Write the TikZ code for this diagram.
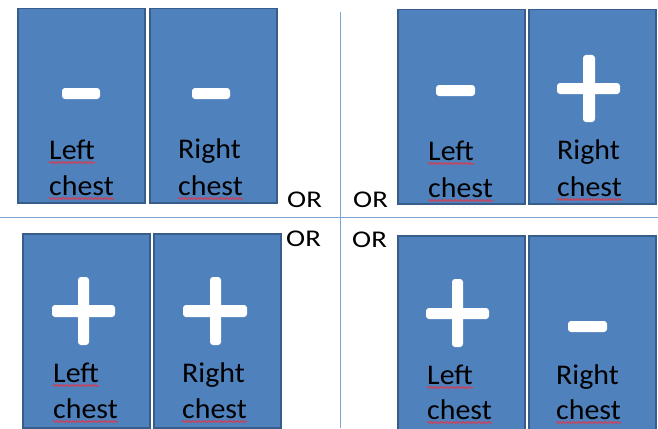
\documentclass[tikz,border=0pt]{standalone}
\usepackage{fontspec}
\setmainfont{Carlito}[FakeStretch=1.05]
\newfontfamily\orfont{Carlito}[FakeStretch=1.2]
\usetikzlibrary{decorations.pathmorphing}
\definecolor{boxfill}{HTML}{4F81BD}
\definecolor{boxedge}{HTML}{385D8A}
\definecolor{divider}{HTML}{7EA3D0}
\definecolor{squigred}{HTML}{E03848}
\begin{document}
\begin{tikzpicture}[x=1pt,y=-1pt,
  chestbox/.style={draw=boxedge, fill=boxfill, line width=1.5pt, inner sep=0,
    anchor=north west, minimum width=127pt, minimum height=194pt},
  lab/.style={inner sep=0, anchor=base west, font=\fontsize{28.5}{28.5}\selectfont, text=black},
  ortext/.style={inner sep=0, anchor=base west, font=\orfont\fontsize{24}{24}\selectfont, text=black},
  sign/.style={fill=white, rounded corners=3pt},
  squig/.style={draw=squigred, line width=0.8pt, decorate,
    decoration={snake, amplitude=1pt, segment length=3.2pt}},
  divline/.style={draw=divider, line width=1pt}]
\useasboundingbox (0,0) rectangle (658,428);

% dividers
\coordinate (hl) at (0,217);
\coordinate (hr) at (658,217);
\coordinate (vt) at (340,12);
\coordinate (vb) at (340,428);
\draw[divline] (hl) -- (hr);
\draw[divline] (vt) -- (vb);

% panel 1
\node[chestbox] (p1L) at (17,8) {};
\node[chestbox] (p1R) at (149,8) {};
\fill[sign] (62,88) rectangle (100,99);
\fill[sign] (192,88) rectangle (230,99);
\node[lab] (p1La) at (49,159) {Left};
\node[lab] (p1Lb) at (49,195) {chest};
\node[lab] (p1Ra) at (178,158) {Right};
\node[lab] (p1Rb) at (178,195) {chest};
\node[ortext] (or1) at (287,207) {OR};

% panel 2
\node[chestbox] (p2L) at (397,9) {};
\node[chestbox] (p2R) at (528,9) {};
\fill[sign] (436,85) rectangle (475,96);
\fill[sign] (557,83) rectangle (620,94);
\fill[sign] (583,55) rectangle (595,122);
\node[lab] (p2La) at (428,160) {Left};
\node[lab] (p2Lb) at (428,197) {chest};
\node[lab] (p2Ra) at (557,159) {Right};
\node[lab] (p2Rb) at (557,196) {chest};
\node[ortext] (or2) at (353,207) {OR};

% panel 3
\node[chestbox] (p3L) at (22,233) {};
\node[chestbox] (p3R) at (153,233) {};
\fill[sign] (52,305) rectangle (115,317);
\fill[sign] (78,277) rectangle (89,345);
\fill[sign] (183,305) rectangle (247,317);
\fill[sign] (210,277) rectangle (221,345);
\node[lab] (p3La) at (53,382) {Left};
\node[lab] (p3Lb) at (53,418) {chest};
\node[lab] (p3Ra) at (182,382) {Right};
\node[lab] (p3Rb) at (182,418) {chest};
\node[ortext] (or3) at (286,246) {OR};

% panel 4
\node[chestbox] (p4L) at (397,235) {};
\node[chestbox] (p4R) at (528,235) {};
\fill[sign] (426,308) rectangle (489,319);
\fill[sign] (452,279) rectangle (463,347);
\fill[sign] (568,321) rectangle (607,332);
\node[lab] (p4La) at (427,384) {Left};
\node[lab] (p4Lb) at (427,419) {chest};
\node[lab] (p4Ra) at (556,384) {Right};
\node[lab] (p4Rb) at (556,419) {chest};
\node[ortext] (or4) at (352,247) {OR};

% spell-check underlines
\foreach \w in {p1La,p1Lb,p1Rb,p2La,p2Lb,p2Rb,p3La,p3Lb,p3Rb,p4La,p4Lb,p4Rb}{
  \draw[squig] ([yshift=-3.5pt]\w.base west) -- ([yshift=-3.5pt]\w.base east);
}
\end{tikzpicture}
\end{document}
